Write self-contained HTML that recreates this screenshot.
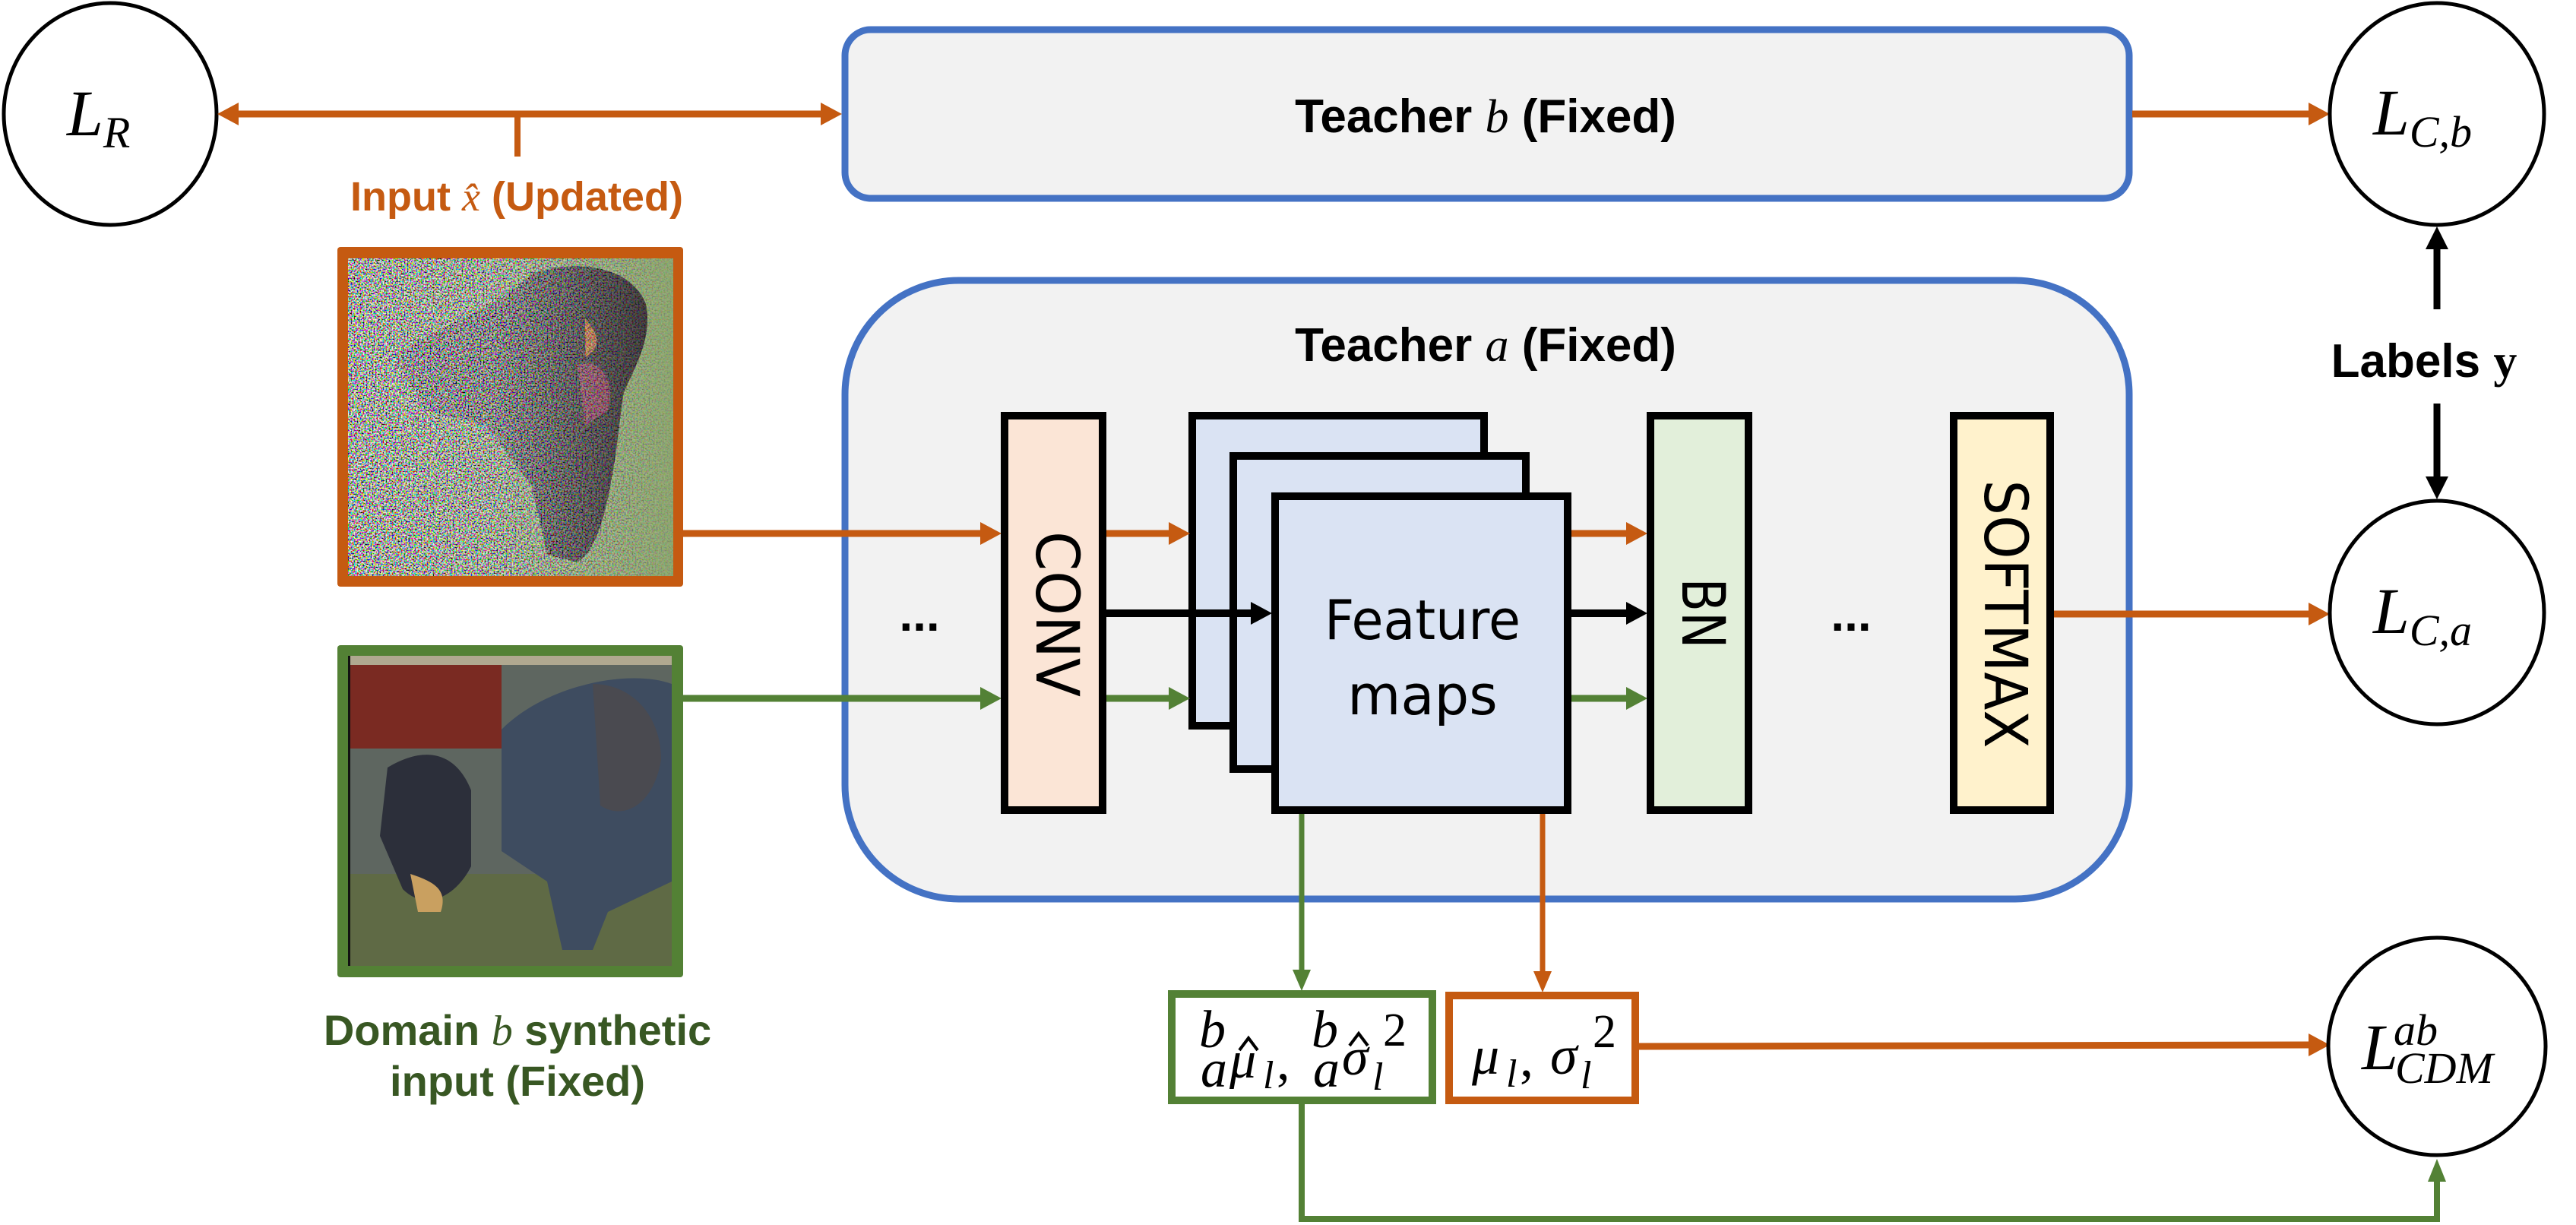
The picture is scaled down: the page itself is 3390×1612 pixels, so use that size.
<!DOCTYPE html>
<html><head><meta charset="utf-8"><style>
html,body{margin:0;padding:0;background:#fff;}
svg{display:block;}
</style></head><body>
<svg width="3390" height="1612" viewBox="0 0 3390 1612" xmlns="http://www.w3.org/2000/svg">
<defs>
<filter id="noise" x="0" y="0" width="100%" height="100%">
<feTurbulence type="fractalNoise" baseFrequency="0.5" numOctaves="1" seed="3" result="t"/>
<feColorMatrix in="t" type="matrix" values="5 0 0 0 -2  0 5 0 0 -2  0 0 5 0 -2  0 0 0 0 1"/>
</filter>
<linearGradient id="fade" x1="0" x2="1" y1="0" y2="0">
<stop offset="0" stop-color="#fff" stop-opacity="1"/>
<stop offset="0.45" stop-color="#fff" stop-opacity="0.85"/>
<stop offset="1" stop-color="#fff" stop-opacity="0.1"/>
</linearGradient>
<mask id="fm"><rect x="458" y="340" width="428" height="418" fill="url(#fade)"/></mask>
</defs>

<!-- Teacher b -->
<rect x="1112" y="39" width="1690" height="222" rx="34" fill="#f2f2f2" stroke="#4472c4" stroke-width="9"/>
<text x="1955" y="174" font-family="Liberation Sans, sans-serif" font-weight="bold" font-size="62" text-anchor="middle">Teacher <tspan font-family="Liberation Serif, serif" font-style="italic" font-weight="normal">b</tspan> (Fixed)</text>

<!-- Teacher a -->
<rect x="1112" y="369" width="1690" height="814" rx="150" fill="#f2f2f2" stroke="#4472c4" stroke-width="9"/>
<text x="1955" y="475" font-family="Liberation Sans, sans-serif" font-weight="bold" font-size="62" text-anchor="middle">Teacher <tspan font-family="Liberation Serif, serif" font-style="italic" font-weight="normal">a</tspan> (Fixed)</text>

<!-- L_R -->
<ellipse cx="145" cy="150" rx="140" ry="146" fill="#fff" stroke="#000" stroke-width="5"/>
<text x="88" y="178" font-family="Liberation Serif, serif" font-style="italic" font-size="86">L<tspan font-size="58" dy="16">R</tspan></text>

<!-- LR <-> Teacher b arrow -->
<line x1="312" y1="150" x2="1080" y2="150" stroke="#c55a11" stroke-width="9"/>
<path d="M286,150 L314,135 L314,165 z" fill="#c55a11"/>
<path d="M1108,150 L1080,135 L1080,165 z" fill="#c55a11"/>
<line x1="681" y1="150" x2="681" y2="206" stroke="#c55a11" stroke-width="8"/>
<text x="680" y="277" font-family="Liberation Sans, sans-serif" font-weight="bold" font-size="54" fill="#c55a11" text-anchor="middle">Input <tspan font-family="Liberation Serif, serif" font-style="italic" font-weight="normal">x̂</tspan> (Updated)</text>

<!-- Input image (noisy) -->
<rect x="444" y="325" width="455" height="447" rx="4" fill="#c55a11"/>
<rect x="458" y="340" width="428" height="418" fill="#8aa36a"/>
<path d="M700,360 C760,340 830,350 850,400 C860,450 830,490 820,520 L810,600 C800,660 790,720 760,740 L720,730 L700,640 L640,560 L560,540 L520,470 C560,430 640,420 700,360 z" fill="#2a2326"/>
<path d="M760,480 C790,470 810,500 800,540 L770,560 z" fill="#7a3048"/>
<path d="M770,420 C790,440 790,460 770,470 z" fill="#b86a30"/>
<rect x="458" y="340" width="428" height="418" filter="url(#noise)" mask="url(#fm)" opacity="0.9"/>

<!-- Domain b image -->
<rect x="444" y="849" width="455" height="437" rx="4" fill="#538135"/>
<rect x="458" y="863" width="426" height="408" fill="#5e6660"/>
<rect x="458" y="863" width="426" height="12" fill="#b0a890"/>
<rect x="460" y="875" width="200" height="110" fill="#7a2a22"/>
<rect x="458" y="1150" width="426" height="121" fill="#5f6a45"/>
<path d="M660,960 C720,900 830,880 884,900 L884,1160 L800,1200 L780,1250 L740,1250 L720,1160 L660,1120 z" fill="#3e4c60"/>
<path d="M780,900 C830,900 870,940 870,1000 C860,1060 820,1080 790,1060 z" fill="#4a4a50"/>
<path d="M510,1010 C560,980 600,990 620,1040 L620,1140 C600,1180 560,1200 530,1170 L500,1100 z" fill="#2c2f3a"/>
<path d="M540,1150 C570,1160 590,1170 580,1200 L550,1200 z" fill="#c9a060"/>
<rect x="458" y="863" width="3" height="408" fill="#111"/>

<text x="681" y="1375" font-family="Liberation Sans, sans-serif" font-weight="bold" font-size="56" fill="#385723" text-anchor="middle">Domain <tspan font-family="Liberation Serif, serif" font-style="italic" font-weight="normal">b</tspan> synthetic</text>
<text x="681" y="1442" font-family="Liberation Sans, sans-serif" font-weight="bold" font-size="56" fill="#385723" text-anchor="middle">input (Fixed)</text>

<!-- input arrows to CONV -->
<line x1="899" y1="702" x2="1292" y2="702" stroke="#c55a11" stroke-width="9"/>
<path d="M1318,702 L1290,687 L1290,717 z" fill="#c55a11"/>
<line x1="899" y1="919" x2="1292" y2="919" stroke="#538135" stroke-width="9"/>
<path d="M1318,919 L1290,904 L1290,934 z" fill="#538135"/>

<!-- dots -->
<text x="1210" y="830" font-family="Liberation Sans, sans-serif" font-weight="bold" font-size="64" text-anchor="middle">...</text>
<text x="2436" y="830" font-family="Liberation Sans, sans-serif" font-weight="bold" font-size="64" text-anchor="middle">...</text>

<!-- CONV -->
<rect x="1322" y="547" width="129" height="519" fill="#fbe5d6" stroke="#000" stroke-width="10"/>
<text transform="translate(1386,808) rotate(90)" x="0" y="22" font-family="DejaVu Sans, Liberation Sans, sans-serif" font-size="78" text-anchor="middle" textLength="218" lengthAdjust="spacingAndGlyphs">CONV</text>

<!-- Feature maps stacks -->
<rect x="1569" y="547" width="384" height="408" fill="#dae3f3" stroke="#000" stroke-width="10"/>
<rect x="1623" y="600" width="385" height="412" fill="#dae3f3" stroke="#000" stroke-width="10"/>
<rect x="1678" y="653" width="385" height="413" fill="#dae3f3" stroke="#000" stroke-width="10"/>
<text x="1872" y="841" font-family="DejaVu Sans, Liberation Sans, sans-serif" font-size="72" text-anchor="middle" textLength="258" lengthAdjust="spacingAndGlyphs">Feature</text>
<text x="1872" y="940" font-family="DejaVu Sans, Liberation Sans, sans-serif" font-size="72" text-anchor="middle">maps</text>

<!-- CONV -> FM arrows -->
<line x1="1456" y1="702" x2="1540" y2="702" stroke="#c55a11" stroke-width="9"/>
<path d="M1566,702 L1538,687 L1538,717 z" fill="#c55a11"/>
<line x1="1456" y1="807" x2="1648" y2="807" stroke="#000" stroke-width="10"/>
<path d="M1674,807 L1646,792 L1646,822 z" fill="#000"/>
<line x1="1456" y1="919" x2="1540" y2="919" stroke="#538135" stroke-width="9"/>
<path d="M1566,919 L1538,904 L1538,934 z" fill="#538135"/>

<!-- FM -> BN arrows -->
<line x1="2068" y1="702" x2="2142" y2="702" stroke="#c55a11" stroke-width="9"/>
<path d="M2168,702 L2140,687 L2140,717 z" fill="#c55a11"/>
<line x1="2068" y1="807" x2="2142" y2="807" stroke="#000" stroke-width="10"/>
<path d="M2168,807 L2140,792 L2140,822 z" fill="#000"/>
<line x1="2068" y1="919" x2="2142" y2="919" stroke="#538135" stroke-width="9"/>
<path d="M2168,919 L2140,904 L2140,934 z" fill="#538135"/>

<!-- BN -->
<rect x="2172" y="547" width="129" height="519" fill="#e2efda" stroke="#000" stroke-width="10"/>
<text transform="translate(2236,807) rotate(90)" x="0" y="22" font-family="DejaVu Sans, Liberation Sans, sans-serif" font-size="78" text-anchor="middle" textLength="93" lengthAdjust="spacingAndGlyphs">BN</text>

<!-- SOFTMAX -->
<rect x="2571" y="547" width="127" height="519" fill="#fff2cc" stroke="#000" stroke-width="10"/>
<text transform="translate(2634,808) rotate(90)" x="0" y="22" font-family="DejaVu Sans, Liberation Sans, sans-serif" font-size="78" text-anchor="middle" textLength="353" lengthAdjust="spacingAndGlyphs">SOFTMAX</text>

<!-- SOFTMAX -> Lca -->
<line x1="2703" y1="808" x2="3040" y2="808" stroke="#c55a11" stroke-width="9"/>
<path d="M3066,808 L3038,793 L3038,823 z" fill="#c55a11"/>

<!-- Teacher b -> Lcb -->
<line x1="2806" y1="150" x2="3040" y2="150" stroke="#c55a11" stroke-width="9"/>
<path d="M3066,150 L3038,135 L3038,165 z" fill="#c55a11"/>

<!-- Lcb -->
<ellipse cx="3207" cy="150" rx="141" ry="146" fill="#fff" stroke="#000" stroke-width="5"/>
<text x="3123" y="177" font-family="Liberation Serif, serif" font-style="italic" font-size="86">L<tspan font-size="58" dy="16">C,b</tspan></text>

<!-- Labels y -->
<text x="3190" y="496" font-family="Liberation Sans, sans-serif" font-weight="bold" font-size="62" text-anchor="middle">Labels <tspan font-family="Liberation Serif, serif">y</tspan></text>
<line x1="3207" y1="407" x2="3207" y2="325" stroke="#000" stroke-width="9"/>
<path d="M3207,298 L3192,328 L3222,328 z" fill="#000"/>
<line x1="3207" y1="531" x2="3207" y2="630" stroke="#000" stroke-width="9"/>
<path d="M3207,657 L3192,627 L3222,627 z" fill="#000"/>

<!-- Lca -->
<ellipse cx="3207" cy="806" rx="141" ry="147" fill="#fff" stroke="#000" stroke-width="5"/>
<text x="3123" y="833" font-family="Liberation Serif, serif" font-style="italic" font-size="86">L<tspan font-size="58" dy="16">C,a</tspan></text>

<!-- FM bottom verticals -->
<line x1="1713" y1="1071" x2="1713" y2="1280" stroke="#538135" stroke-width="7"/>
<path d="M1713,1304 L1701,1276 L1725,1276 z" fill="#538135"/>
<line x1="2030" y1="1071" x2="2030" y2="1280" stroke="#c55a11" stroke-width="7"/>
<path d="M2030,1306 L2018,1278 L2042,1278 z" fill="#c55a11"/>

<!-- stats boxes -->
<rect x="1542" y="1308" width="343" height="140" fill="#fff" stroke="#538135" stroke-width="10"/>
<g font-family="Liberation Serif, serif" font-style="italic" font-size="70">
<text x="1578" y="1378">b</text>
<text x="1580" y="1430">a</text>
<text x="1618" y="1418">μ</text>
<text x="1662" y="1432" font-size="52">l</text>
<text x="1680" y="1420" font-style="normal">,</text>
<text x="1726" y="1378">b</text>
<text x="1728" y="1430">a</text>
<text x="1766" y="1414">σ</text>
<text x="1806" y="1434" font-size="52">l</text>
<text x="1820" y="1376" font-size="62" font-style="normal">2</text>
</g>
<path d="M1631,1382 L1643,1366 L1655,1382" fill="none" stroke="#000" stroke-width="4"/>
<path d="M1776,1376 L1788,1360 L1800,1376" fill="none" stroke="#000" stroke-width="4"/>
<rect x="1907" y="1310" width="245" height="138" fill="#fff" stroke="#c55a11" stroke-width="10"/>
<g font-family="Liberation Serif, serif" font-style="italic" font-size="72">
<text x="1937" y="1413">μ</text>
<text x="1982" y="1430" font-size="52">l</text>
<text x="2000" y="1416" font-style="normal">,</text>
<text x="2040" y="1413">σ</text>
<text x="2080" y="1432" font-size="52">l</text>
<text x="2096" y="1378" font-size="62" font-style="normal">2</text>
</g>

<!-- orange to LCDM -->
<line x1="2157" y1="1377" x2="3040" y2="1375" stroke="#c55a11" stroke-width="9"/>
<path d="M3066,1375 L3038,1360 L3038,1390 z" fill="#c55a11"/>

<!-- green loop -->
<polyline points="1713,1453 1713,1604 3207,1604 3207,1550" fill="none" stroke="#538135" stroke-width="8"/>
<path d="M3207,1525 L3195,1555 L3219,1555 z" fill="#538135"/>

<!-- LCDM -->
<circle cx="3207" cy="1377" r="143" fill="#fff" stroke="#000" stroke-width="5"/>
<text x="3108" y="1407" font-family="Liberation Serif, serif" font-style="italic" font-size="86">L</text>
<text x="3150" y="1375" font-family="Liberation Serif, serif" font-style="italic" font-size="58">ab</text>
<text x="3152" y="1425" font-family="Liberation Serif, serif" font-style="italic" font-size="58">CDM</text>
</svg>
</body></html>
